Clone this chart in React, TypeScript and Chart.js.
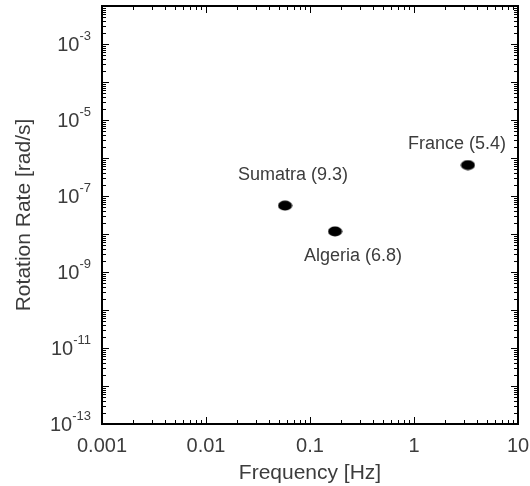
import React, { useEffect, useRef } from "react";
import { Chart, registerables } from "chart.js";
Chart.register(...registerables);

// ---- data ----
const sites = ["Sumatra", "Algeria", "France"];
const magnitudes = ["9.3", "6.8", "5.4"];
const frequencyHz = [0.0575, 0.174, 3.3];
const rotationRate = [5.6e-8, 1.17e-8, 6.5e-7];
const xTickValues = [0.001, 0.01, 0.1, 1, 10];
const xTickLabels = ["0.001", "0.01", "0.1", "1", "10"];
const yTickExponents = [-3, -5, -7, -9, -11, -13];
const xMin = 0.001, xMax = 10;
const yMin = 1e-13, yMax = 1e-2;
const xTitle = "Frequency [Hz]";
const yTitle = "Rotation Rate [rad/s]";

// ---- styles ----
const FONT = "'Liberation Sans', Arial, sans-serif";
const TEXT = "#3c3c3c";
const LABEL_OFFSETS = [[8, -31], [18, 25], [-11, -21]];

function makeDot() {
  const c = document.createElement("canvas");
  c.width = 15; c.height = 11;
  const g = c.getContext("2d")!;
  g.fillStyle = "#000";
  g.beginPath();
  g.ellipse(7.5, 5.5, 7, 5, 0, 0, Math.PI * 2);
  g.fill();
  return c;
}

const framePlugin = {
  id: "frame",
  afterDraw(chart: any) {
    const ctx = chart.ctx;
    const xs = chart.scales.x, ys = chart.scales.y;
    const { left, right, top, bottom } = chart.chartArea;
    ctx.save();
    ctx.strokeStyle = "#000";
    // ticks
    ctx.lineWidth = 1;
    const majLen = 7, minLen = 4;
    for (let d = Math.log10(xMin); d <= Math.log10(xMax); d++) {
      for (let m = 1; m <= 9; m++) {
        const v = m * Math.pow(10, d);
        if (v > xMax * 1.0001) break;
        const px = Math.round(xs.getPixelForValue(v)) + 0.5;
        const len = m === 1 ? majLen : minLen;
        ctx.beginPath();
        ctx.moveTo(px, bottom); ctx.lineTo(px, bottom - len);
        ctx.moveTo(px, top); ctx.lineTo(px, top + len);
        ctx.stroke();
      }
    }
    for (let d = Math.log10(yMin); d <= Math.log10(yMax); d++) {
      for (let m = 1; m <= 9; m++) {
        const v = m * Math.pow(10, d);
        if (v > yMax * 1.0001) break;
        const py = Math.round(ys.getPixelForValue(v)) + 0.5;
        const len = m === 1 ? majLen : minLen;
        ctx.beginPath();
        ctx.moveTo(left, py); ctx.lineTo(left + len, py);
        ctx.moveTo(right, py); ctx.lineTo(right - len, py);
        ctx.stroke();
      }
    }
    // frame
    ctx.lineWidth = 2;
    ctx.strokeRect(left, top, right - left, bottom - top);

    ctx.fillStyle = TEXT;
    // x tick labels
    ctx.font = `20px ${FONT}`;
    ctx.textAlign = "center";
    ctx.textBaseline = "middle";
    xTickValues.forEach((v, i) => {
      ctx.fillText(xTickLabels[i], xs.getPixelForValue(v), bottom + 22);
    });
    // y tick labels with superscript exponent
    yTickExponents.forEach((e) => {
      const py = ys.getPixelForValue(Math.pow(10, e));
      const exp = "-" + String(-e);
      ctx.font = `13px ${FONT}`;
      const ew = ctx.measureText(exp).width;
      const rightEdge = left - 11;
      ctx.textAlign = "left";
      ctx.textBaseline = "middle";
      ctx.fillText(exp, rightEdge - ew, py - 8);
      ctx.font = `20px ${FONT}`;
      ctx.textAlign = "right";
      ctx.fillText("10", rightEdge - ew, py + 1);
    });
    // axis titles
    ctx.font = `21px ${FONT}`;
    ctx.textAlign = "center";
    ctx.textBaseline = "middle";
    ctx.fillText(xTitle, (left + right) / 2, bottom + 49);
    ctx.save();
    ctx.translate(24, (top + bottom) / 2);
    ctx.rotate(-Math.PI / 2);
    ctx.fillText(yTitle, 0, 0);
    ctx.restore();
    // point labels
    ctx.font = `18px ${FONT}`;
    sites.forEach((s, i) => {
      const px = xs.getPixelForValue(frequencyHz[i]);
      const py = ys.getPixelForValue(rotationRate[i]);
      ctx.fillText(`${s} (${magnitudes[i]})`, px + LABEL_OFFSETS[i][0], py + LABEL_OFFSETS[i][1]);
    });
    ctx.restore();
  },
};

export default function App() {
  const ref = useRef<HTMLCanvasElement>(null);
  useEffect(() => {
    const dot = makeDot();
    const chart = new Chart(ref.current!, {
      type: "scatter",
      data: {
        datasets: [
          {
            data: frequencyHz.map((x, i) => ({ x, y: rotationRate[i] })),
            pointStyle: dot as any,
            backgroundColor: "#000",
          },
        ],
      },
      options: {
        responsive: false,
        animation: false,
        layout: { padding: { left: 102, right: 12, top: 6, bottom: 62 } },
        plugins: { legend: { display: false }, tooltip: { enabled: false } },
        scales: {
          x: { type: "logarithmic", min: xMin, max: xMax, display: false },
          y: { type: "logarithmic", min: yMin, max: yMax, display: false },
        },
      },
      plugins: [framePlugin],
    });
    return () => chart.destroy();
  }, []);
  return (
    <div style={{ position: "fixed", left: 0, top: 0, width: 530, height: 486, background: "#fff" }}>
      <canvas ref={ref} width={530} height={486} />
    </div>
  );
}
